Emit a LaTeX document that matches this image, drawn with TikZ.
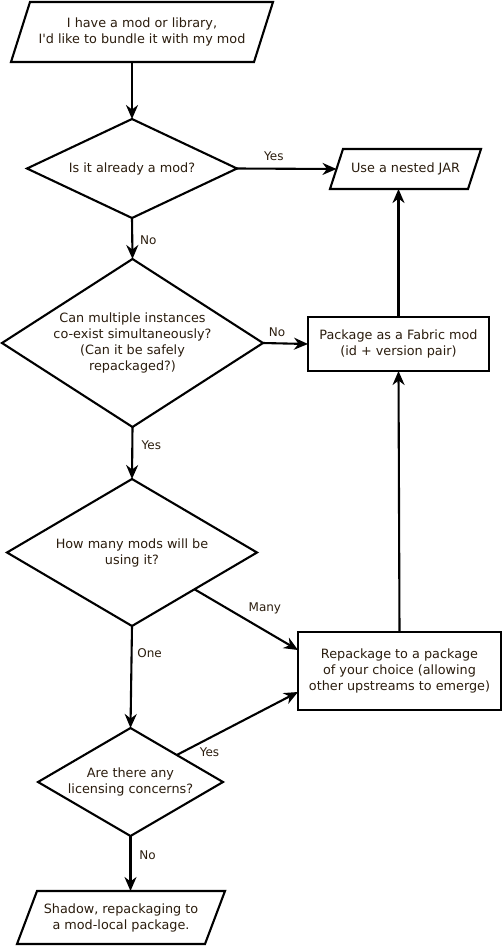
\documentclass[tikz,border=0pt]{standalone}
\usepackage{fontspec}
\setmainfont{DejaVu Sans}[Ligatures=TeXOff]
\usetikzlibrary{shapes.geometric,arrows.meta,calc}
\definecolor{txt}{RGB}{43,29,14}
\newcommand{\paragram}[2]{\draw[shapeline] ([xshift=#2]#1.north west) -- (#1.north east) -- ([xshift=-#2]#1.south east) -- (#1.south west) -- cycle;}
\begin{document}
\begin{tikzpicture}[x=1pt,y=-1pt,
 shapeline/.style={draw=black, line width=2.1pt, line join=miter},
 base/.style={shapeline, inner sep=0pt, outer sep=0pt,
   font=\fontsize{12.8}{16}\selectfont, text=txt, align=center},
 io/.style={base, rectangle, draw=none},
 dec/.style={base, diamond},
 proc/.style={base, rectangle},
 arr/.style={line width=2.1pt, -{Stealth[length=14pt,width=12pt,inset=4.5pt]}},
 lbl/.style={font=\fontsize{12}{14}\selectfont, text=txt, inner sep=0pt},
]
\useasboundingbox (0,0) rectangle (502,946);
\fill[white] (0,0) rectangle (502,946);

\node[io, minimum width=262pt, minimum height=60pt] (start) at (142,32) {I have a mod or library,\\I'd like to bundle it with my mod};
\paragram{start}{19pt}
\node[dec, aspect=2.12, minimum width=210pt, minimum height=99pt] (d1) at (132,168.5) {Is it already a mod?};
\node[io, minimum width=151pt, minimum height=40pt] (jar) at (405.5,169) {Use a nested JAR};
\paragram{jar}{13pt}
\node[dec, aspect=1.55, minimum width=261pt, minimum height=168pt] (d2) at (132.5,343) {Can multiple instances\\co-exist simultaneously?\\(Can it be safely\\repackaged?)};
\node[proc, minimum width=181pt, minimum height=54pt] (pkg) at (398.5,344) {Package as a Fabric mod\\(id + version pair)};
\node[dec, aspect=1.7, minimum width=250pt, minimum height=147pt] (d3) at (132,552.5) {How many mods will be\\using it?};
\node[proc, minimum width=203pt, minimum height=78pt] (rep) at (399.5,671) {Repackage to a package\\of your choice (allowing\\other upstreams to emerge)};
\node[dec, aspect=1.71, minimum width=185pt, minimum height=108pt] (d4) at (130.5,782) {Are there any\\licensing concerns?};
\node[io, minimum width=208pt, minimum height=53pt] (shadow) at (121,917.5) {Shadow, repackaging to\\a mod-local package.};
\paragram{shadow}{20pt}

\coordinate (repin1) at ([yshift=21pt]rep.west);
\coordinate (repin2) at ([yshift=-21pt]rep.west);
\coordinate (jarin) at ([xshift=6.5pt]jar.west);

\draw[arr] (start.south -| d1.north) -- (d1.north);
\draw[arr] (d1.east) -- node[lbl, pos=0.37, yshift=12pt] {Yes} (jarin);
\draw[arr] (d1.south) -- node[lbl, pos=0.54, xshift=16pt] {No} (d2.north);
\draw[arr] (d2.east) -- node[lbl, pos=0.31, yshift=11pt] {No} (pkg.west);
\draw[arr] (pkg.north) -- (pkg.north |- jar.south);
\draw[arr] (d2.south) -- node[lbl, pos=0.35, xshift=19pt] {Yes} (d3.north);
\draw[arr] (d3.south east) -- node[lbl, pos=0.68, yshift=22pt] {Many} (repin1);
\draw[arr] (rep.north) -- (pkg.south);
\draw[arr] (d3.south) -- node[lbl, pos=0.27, xshift=18pt] {One} (d4.north);
\draw[arr] (d4.north east) -- node[lbl, pos=0.27, yshift=-14pt] {Yes} (repin2);
\draw[arr] (d4.south) -- node[lbl, pos=0.35, xshift=17pt] {No} (d4.south |- shadow.north);
\end{tikzpicture}
\end{document}
